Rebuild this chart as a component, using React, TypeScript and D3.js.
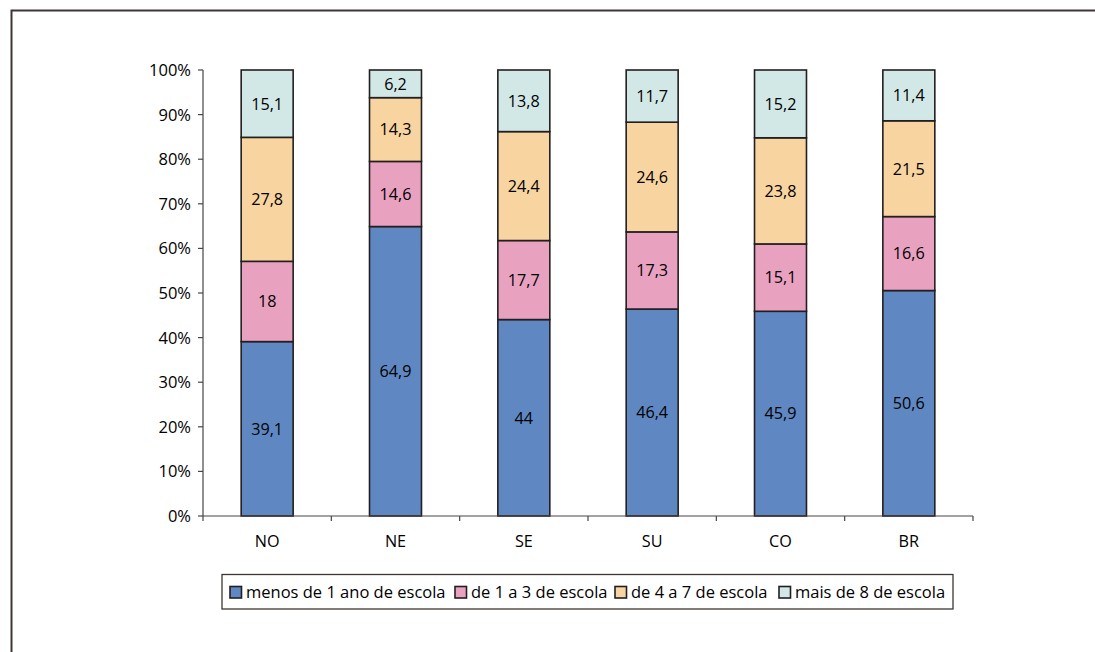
import React from "react";
import * as d3 from "d3";

// Regions and schooling brackets (percent of population)
const regions = ["NO", "NE", "SE", "SU", "CO", "BR"];
const seriesNames = [
  "menos de 1 ano de escola",
  "de 1 a 3 de escola",
  "de 4 a 7 de escola",
  "mais de 8 de escola",
];
const menos1 = [39.1, 64.9, 44, 46.4, 45.9, 50.6];
const de1a3 = [18, 14.6, 17.7, 17.3, 15.1, 16.6];
const de4a7 = [27.8, 14.3, 24.4, 24.6, 23.8, 21.5];
const mais8 = [15.1, 6.2, 13.8, 11.7, 15.2, 11.4];
const yTicks = [0, 0.1, 0.2, 0.3, 0.4, 0.5, 0.6, 0.7, 0.8, 0.9, 1];
const colors = ["#5f88c3", "#e9a1c0", "#f8d4a1", "#d2e8e7"];

const W = 1095;
const H = 652;
const FONT = "'Open Sans', 'Noto Sans', sans-serif";

export default function App() {
  const keys = ["s0", "s1", "s2", "s3"];
  const rows = regions.map((r, i) => ({
    region: r,
    s0: menos1[i],
    s1: de1a3[i],
    s2: de4a7[i],
    s3: mais8[i],
  }));
  const stacked = d3
    .stack<any>()
    .keys(keys)
    .offset(d3.stackOffsetExpand)(rows);

  const x = d3
    .scaleBand<string>()
    .domain(regions)
    .range([203, 973])
    .paddingInner(0.595)
    .paddingOuter(0.2975);
  const y = d3.scaleLinear().domain([0, 1]).range([516, 70]);
  const step = x.step();
  const boundaries = d3.range(regions.length + 1).map((i) => 203 + i * step);
  const fmt = (v: number) => String(v).replace(".", ",");
  const pct = d3.format(".0%");

  // legend layout
  const legendX = [230, 455, 615, 779];

  return (
    <svg
      width={W}
      height={H}
      style={{ position: "absolute", left: 0, top: 0, background: "#fff" }}
      fontFamily={FONT}
    >
      <rect x={0} y={0} width={W} height={H} fill="#fff" />
      {/* frame */}
      <path d={`M11.5,${H} V10.5 H${W}`} fill="none" stroke="#3c3634" strokeWidth={2} />

      {/* bars */}
      {stacked.map((layer, si) => (
        <g key={si}>
          {layer.map((d, i) => {
            const x0 = x(regions[i])!;
            const yTop = y(d[1]);
            const yBot = y(d[0]);
            const raw = [menos1, de1a3, de4a7, mais8][si][i];
            return (
              <g key={i}>
                <rect
                  x={x0}
                  y={yTop}
                  width={x.bandwidth()}
                  height={yBot - yTop}
                  fill={colors[si]}
                  stroke="#231f20"
                  strokeWidth={1.6}
                />
                <text
                  x={x0 + x.bandwidth() / 2}
                  y={(yTop + yBot) / 2}
                  dy="0.36em"
                  textAnchor="middle"
                  fontSize={16.2}
                  fill="#000"
                >
                  {fmt(raw)}
                </text>
              </g>
            );
          })}
        </g>
      ))}

      {/* y axis */}
      <line x1={203} x2={203} y1={y(1)} y2={y(0)} stroke="#4a4442" strokeWidth={1.2} />
      {yTicks.map((t) => (
        <g key={t}>
          <line x1={198} x2={203} y1={y(t)} y2={y(t)} stroke="#4a4442" strokeWidth={1.2} />
          <text x={191} y={y(t)} dy="0.36em" textAnchor="end" fontSize={16.5} fill="#000">
            {pct(t)}
          </text>
        </g>
      ))}

      {/* x axis */}
      <line x1={203} x2={973} y1={516} y2={516} stroke="#4a4442" strokeWidth={1.2} />
      {boundaries.map((bx, i) => (
        <line key={i} x1={bx} x2={bx} y1={516} y2={521} stroke="#4a4442" strokeWidth={1.2} />
      ))}
      {regions.map((r) => (
        <text
          key={r}
          x={x(r)! + x.bandwidth() / 2}
          y={541}
          dy="0.36em"
          textAnchor="middle"
          fontSize={16.2}
          fill="#000"
        >
          {r}
        </text>
      ))}

      {/* legend */}
      <rect x={222} y={574.5} width={731} height={34.5} fill="#fff" stroke="#3c3634" strokeWidth={1.3} />
      {seriesNames.map((n, i) => (
        <g key={n}>
          <rect
            x={legendX[i]}
            y={586.5}
            width={11.5}
            height={11.5}
            fill={colors[i]}
            stroke="#231f20"
            strokeWidth={1.6}
          />
          <text x={legendX[i] + 16} y={592} dy="0.36em" fontSize={16.5} fill="#000">
            {n}
          </text>
        </g>
      ))}
    </svg>
  );
}
